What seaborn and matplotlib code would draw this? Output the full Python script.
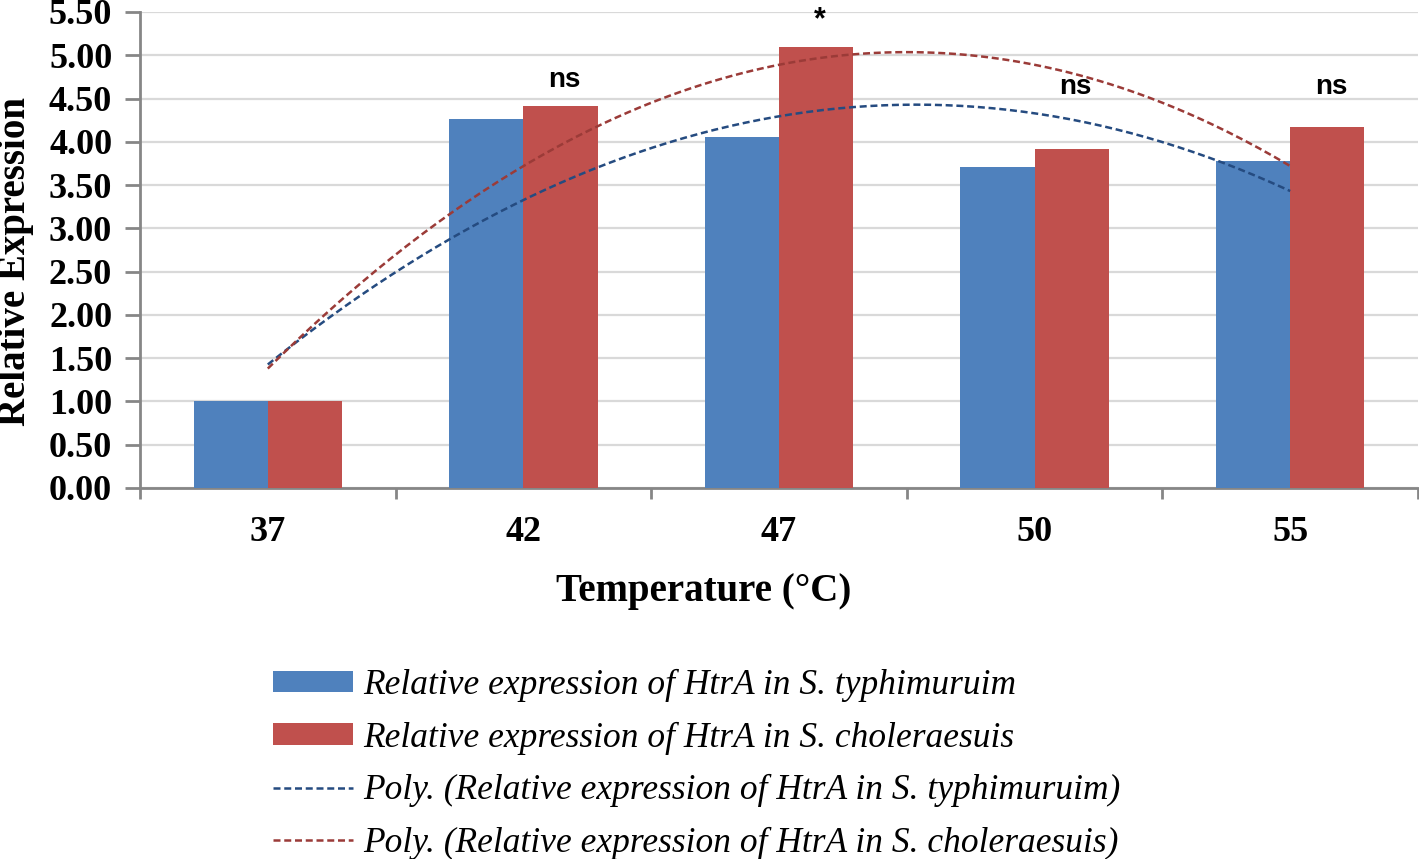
import numpy as np
import pandas as pd
import seaborn as sns
import matplotlib.pyplot as plt
from matplotlib.ticker import FixedLocator, FormatStrFormatter

# Data
temperatures = ["37", "42", "47", "50", "55"]
typhimurium = [1.00, 4.26, 4.06, 3.71, 3.78]
choleraesuis = [1.00, 4.41, 5.10, 3.92, 4.17]
sig_labels = ["", "ns", "*", "ns", "ns"]
sig_heights = [0, 4.71, 5.40, 4.63, 4.63]

label_typh = "Relative expression of HtrA in S. typhimuruim"
label_chol = "Relative expression of HtrA in S. choleraesuis"

blue = "#4F81BD"
red = "#C0504D"
blue_dark = "#254B80"
red_dark = "#9B3B38"
grey = "#868686"

df = pd.DataFrame({
    "Temperature": temperatures * 2,
    "Expression": typhimurium + choleraesuis,
    "Strain": [label_typh] * len(temperatures) + [label_chol] * len(temperatures),
})

sns.set_style("white")
plt.rcParams["font.family"] = ["Liberation Serif", "DejaVu Serif"]
plt.rcParams["text.color"] = "black"
plt.rcParams["axes.labelcolor"] = "black"
plt.rcParams["xtick.color"] = "black"
plt.rcParams["ytick.color"] = "black"

fig = plt.figure(figsize=(14.19, 8.59), dpi=100)
ax = fig.add_axes([140 / 1419, 1 - 488 / 859, 1278 / 1419, 476 / 859])

sns.barplot(data=df, x="Temperature", y="Expression", hue="Strain",
            order=temperatures, palette=[blue, red], width=0.58,
            saturation=1, errorbar=None, linewidth=0, ax=ax, zorder=3)
ax.get_legend().remove()

# 2nd order polynomial trendlines over the category index (Excel style)
idx = np.arange(len(temperatures))
xs = np.linspace(idx[0], idx[-1], 200)
trend_lines = []
for vals, col, lab in [(typhimurium, blue_dark, "Poly. (" + label_typh + ")"),
                       (choleraesuis, red_dark, "Poly. (" + label_chol + ")")]:
    coef = np.polyfit(idx, vals, 2)
    ln, = ax.plot(xs, np.polyval(coef, xs), color=col, lw=1.8,
                  dashes=(2.8, 1.5), zorder=4, label=lab)
    trend_lines.append(ln)

# significance marks above the choleraesuis bars
for i, (txt, h) in enumerate(zip(sig_labels, sig_heights)):
    if txt:
        ax.text(i + 0.16, h, txt, ha="center", va="center",
                fontsize=20 if txt == "ns" else 22, fontweight="bold",
                family="Liberation Sans", zorder=5)

ax.set_xlim(-0.5, len(temperatures) - 0.5)
ax.set_ylim(0, 5.5)
ax.yaxis.set_major_locator(FixedLocator(np.arange(0, 5.51, 0.5)))
ax.yaxis.set_major_formatter(FormatStrFormatter("%.2f"))
ax.grid(axis="y", color="#D9D9D9", lw=1.6, zorder=0)
ax.set_axisbelow(True)

for s in ["top", "right"]:
    ax.spines[s].set_visible(False)
for s in ["left", "bottom"]:
    ax.spines[s].set_color(grey)
    ax.spines[s].set_linewidth(2)

ax.tick_params(axis="y", length=11, width=2, color=grey, direction="out",
               labelsize=26, pad=9, left=True)
ax.tick_params(axis="x", which="major", length=0, labelsize=26, pad=20)
ax.set_xticks(np.arange(-0.5, len(temperatures)), minor=True)
ax.tick_params(axis="x", which="minor", length=8, width=2, color=grey,
               direction="out", bottom=True)
for lbl in ax.get_xticklabels() + ax.get_yticklabels():
    lbl.set_fontweight("bold")

ax.set_xlabel("")
ax.set_ylabel("")
fig.text(704 / 1419, 1 - 592 / 859, "Temperature (°C)", fontsize=28,
         fontweight="bold", ha="center", va="center")
fig.text(16 / 1419, 1 - 262 / 859, "Relative Expression", fontsize=28,
         fontweight="bold", ha="center", va="center", rotation=90)

handles = [ax.containers[0], ax.containers[1]] + trend_lines
labels = [label_typh, label_chol] + [l.get_label() for l in trend_lines]
fig.legend(handles, labels, loc="upper left", bbox_to_anchor=(0.180, 0.242),
           frameon=False, prop={"style": "italic", "size": 25.5},
           handlelength=2.25, handleheight=0.55, handletextpad=0.3,
           labelspacing=0.55, borderpad=0)

fig.savefig("out.png", dpi=100)
